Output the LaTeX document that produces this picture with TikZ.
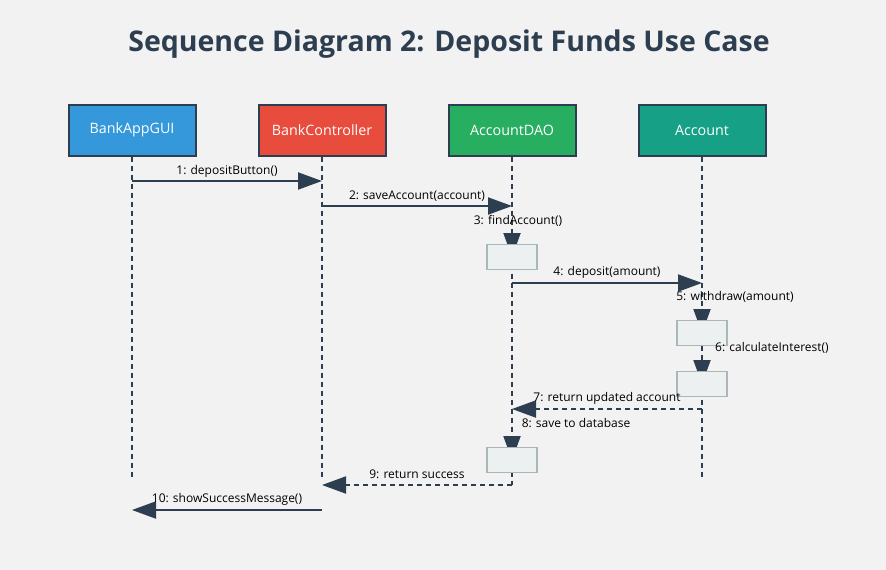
\documentclass[tikz,border=0pt]{standalone}
\usepackage{fontspec}
\setmainfont{Open Sans}
\usetikzlibrary{arrows.meta}
\definecolor{bg}{HTML}{F2F2F2}
\definecolor{dark}{HTML}{2C3E50}
\definecolor{cblue}{HTML}{3498DB}
\definecolor{cred}{HTML}{E74C3C}
\definecolor{cgreen}{HTML}{27AE60}
\definecolor{cteal}{HTML}{16A085}
\definecolor{actfill}{HTML}{ECF0F1}
\definecolor{actdraw}{HTML}{A9B7B7}
\begin{document}
\begin{tikzpicture}[x=1pt,y=-1pt,
  actor/.style={draw=dark, line width=2pt, minimum width=127pt, minimum height=51pt, inner sep=0pt, text=white, font=\fontsize{14.3}{16}\selectfont},
  life/.style={draw=dark, line width=2pt, dash pattern=on 5pt off 4pt},
  msg/.style={draw=dark, line width=2pt, -{Triangle[length=24pt,width=17pt]}},
  ret/.style={msg, dash pattern=on 5pt off 4pt},
  actbox/.style={draw=actdraw, fill=actfill, line width=1.5pt, minimum width=50pt, minimum height=25pt, inner sep=0pt},
  lbl/.style={font=\fontsize{12}{14}\selectfont, text=black, inner sep=0pt}
]
\fill[bg] (0,0) rectangle (886,570);
\useasboundingbox (0,0) rectangle (886,570);

\node[font=\bfseries\fontsize{28.5}{32}\selectfont, text=dark] (title) at (449,44) {Sequence Diagram 2: Deposit Funds Use Case};

\node[actor, fill=cblue] (gui) at (132,130) {BankAppGUI};
\node[actor, fill=cred] (ctrl) at (322,130) {BankController};
\node[actor, fill=cgreen] (dao) at (512,130) {AccountDAO};
\node[actor, fill=cteal] (acc) at (702,130) {Account};

\coordinate (guiE) at (132,480);
\coordinate (ctrlE) at (322,480);
\coordinate (daoE) at (512,485);
\coordinate (accE) at (702,480);

\draw[life] (gui.south) -- (guiE);
\draw[life] (ctrl.south) -- (ctrlE);
\draw[life] (dao.south) -- (daoE);
\draw[life] (acc.south) -- (accE);

% activation boxes positions
\coordinate (a1) at (512,257);
\coordinate (a2) at (702,333);
\coordinate (a3) at (702,384);
\coordinate (a4) at (512,460);

% messages
\coordinate (m1s) at (132,181); \coordinate (m1e) at (322,181);
\draw[msg] (m1s) -- (m1e);
\coordinate (m2s) at (322,206); \coordinate (m2e) at (512,206);
\draw[msg] (m2s) -- (m2e);
\coordinate (m3s) at (512,233);
\draw[msg] (m3s) -- (a1);
\coordinate (m4s) at (512,283); \coordinate (m4e) at (702,283);
\draw[msg] (m4s) -- (m4e);
\coordinate (m5s) at (702,309);
\draw[msg] (m5s) -- (a2);
\coordinate (m6s) at (702,360);
\draw[msg] (m6s) -- (a3);
\coordinate (m7s) at (702,409); \coordinate (m7e) at (512,409);
\draw[ret] (m7s) -- (m7e);
\coordinate (m8s) at (512,436);
\draw[msg] (m8s) -- (a4);
\coordinate (m9e) at (322,485);
\draw[ret] (daoE) -- (m9e);
\coordinate (m10s) at (322,510); \coordinate (m10e) at (132,510);
\draw[msg] (m10s) -- (m10e);

\node[actbox] (b1) at (a1) {};
\node[actbox] (b2) at (a2) {};
\node[actbox] (b3) at (a3) {};
\node[actbox] (b4) at (a4) {};

\node[lbl] (l1) at (227,171) {1: depositButton()};
\node[lbl] (l2) at (417,196) {2: saveAccount(account)};
\node[lbl] (l3) at (518,221) {3: findAccount()};
\node[lbl] (l4) at (607,272) {4: deposit(amount)};
\node[lbl] (l5) at (735,297) {5: withdraw(amount)};
\node[lbl] (l6) at (772,348) {6: calculateInterest()};
\node[lbl] (l7) at (607,398) {7: return updated account};
\node[lbl] (l8) at (576,423) {8: save to database};
\node[lbl] (l9) at (417,474) {9: return success};
\node[lbl] (l10) at (227,499) {10: showSuccessMessage()};
\end{tikzpicture}
\end{document}
